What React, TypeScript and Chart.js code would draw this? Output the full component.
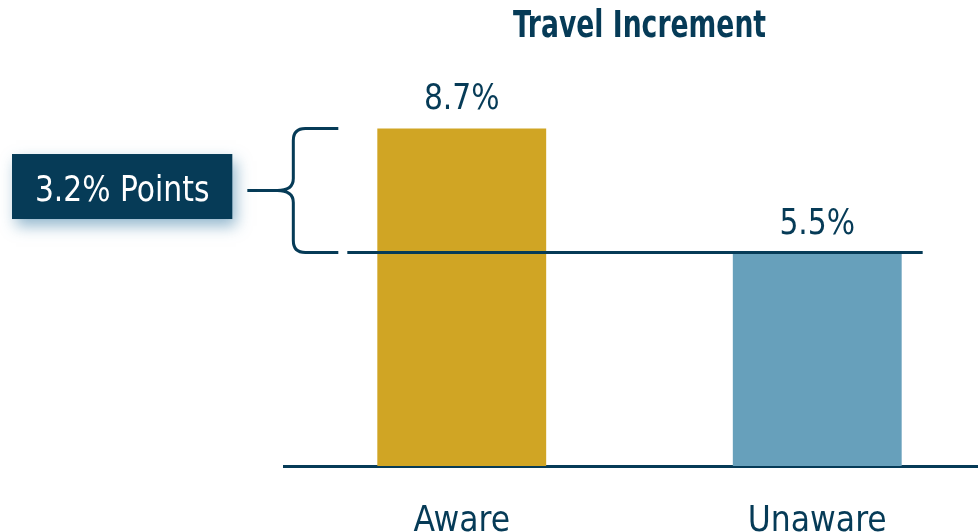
import React, { useEffect, useRef } from "react";
import { Chart, registerables } from "chart.js";

Chart.register(...registerables);

const categories: string[] = ["Aware", "Unaware"];
const values: number[] = [8.7, 5.5];
const valueLabels: string[] = ["8.7%", "5.5%"];
const barColors: string[] = ["#D0A524", "#67A0BB"];
const titleText = "Travel Increment";
const calloutText = "3.2% Points";

const NAVY = "#063B57";
const FONT = "'Liberation Sans Narrow', 'Arial Narrow', 'DejaVu Sans Condensed', 'Roboto Condensed', sans-serif";

function narrowText(ctx: any, text: string, x: number, y: number, sx: number) {
  ctx.save();
  ctx.translate(x, y);
  ctx.scale(sx, 1);
  ctx.fillText(text, 0, 0);
  ctx.restore();
}

const overlayPlugin = {
  id: "overlay",
  afterDatasetsDraw(chart: any) {
    const ctx = chart.ctx;
    const meta = chart.getDatasetMeta(0);
    const y = chart.scales.y;
    const area = chart.chartArea;
    const b0 = meta.data[0];
    const b1 = meta.data[1];
    const left0 = b0.x - b0.width / 2;
    const right1 = b1.x + b1.width / 2;
    const yTop = y.getPixelForValue(values[0]);
    const yLow = y.getPixelForValue(values[1]);

    ctx.save();
    // title
    ctx.fillStyle = NAVY;
    ctx.textAlign = "center";
    ctx.textBaseline = "alphabetic";
    ctx.font = `bold 37px ${FONT}`;
    narrowText(ctx, titleText, (area.left + area.right) / 2, 37, 0.8);

    // value labels
    ctx.font = `36px ${FONT}`;
    meta.data.forEach((bar: any, i: number) => {
      narrowText(ctx, valueLabels[i], bar.x, bar.y - 19, 0.92);
    });

    // reference line at lower value
    ctx.strokeStyle = NAVY;
    ctx.lineWidth = 3;
    ctx.beginPath();
    ctx.moveTo(left0 - 30, yLow);
    ctx.lineTo(right1 + 21, yLow);
    ctx.stroke();

    // brace
    const bx = left0 - 84;
    const armEnd = left0 - 39;
    const r = 12;
    const mid = (yTop + yLow) / 2;
    const tipX = bx - 16;
    ctx.lineJoin = "round";
    ctx.beginPath();
    ctx.moveTo(armEnd, yTop);
    ctx.lineTo(bx + r, yTop);
    ctx.quadraticCurveTo(bx, yTop, bx, yTop + r);
    ctx.lineTo(bx, mid - r);
    ctx.quadraticCurveTo(bx, mid, tipX, mid);
    ctx.quadraticCurveTo(bx, mid, bx, mid + r);
    ctx.lineTo(bx, yLow - r);
    ctx.quadraticCurveTo(bx, yLow, bx + r, yLow);
    ctx.lineTo(armEnd, yLow);
    ctx.stroke();
    // connector
    ctx.beginPath();
    ctx.moveTo(tipX, mid);
    ctx.lineTo(tipX - 30, mid);
    ctx.stroke();

    // callout box
    const boxRight = tipX - 45;
    const boxLeft = 12;
    const boxH = 65;
    const boxTop = mid - 4 - boxH / 2;
    ctx.save();
    ctx.shadowColor = "rgba(60,125,165,0.55)";
    ctx.shadowBlur = 14;
    ctx.shadowOffsetX = 4;
    ctx.shadowOffsetY = 7;
    ctx.fillStyle = NAVY;
    ctx.fillRect(boxLeft, boxTop, boxRight - boxLeft, boxH);
    ctx.restore();
    ctx.fillStyle = "#FFFFFF";
    ctx.font = `36px ${FONT}`;
    ctx.textAlign = "center";
    narrowText(ctx, calloutText, (boxLeft + boxRight) / 2, boxTop + 47, 0.92);
    ctx.restore();
  },
};

export default function App() {
  const ref = useRef<HTMLCanvasElement | null>(null);
  useEffect(() => {
    if (!ref.current) return;
    const chart = new Chart(ref.current, {
      type: "bar",
      data: {
        labels: categories,
        datasets: [
          {
            data: values,
            backgroundColor: barColors,
            borderWidth: 0,
            barPercentage: 0.475,
            categoryPercentage: 1,
          },
        ],
      },
      options: {
        animation: false,
        responsive: true,
        maintainAspectRatio: false,
        layout: { padding: { left: 284, right: 1, top: 78, bottom: 0 } },
        plugins: {
          legend: { display: false },
          tooltip: { enabled: false },
          title: { display: false },
        },
        scales: {
          x: {
            grid: { display: false, drawTicks: false },
            border: { display: true, color: NAVY, width: 3 },
            ticks: {
              color: NAVY,
              font: { family: FONT, size: 35, lineHeight: 1.2 },
              padding: 35,
            },
            afterFit: (s: any) => {
              s.height = 66;
            },
          },
          y: {
            display: false,
            min: 0,
            max: 10,
          },
        },
      },
      plugins: [overlayPlugin],
    });
    return () => chart.destroy();
  }, []);

  return (
    <div style={{ position: "fixed", left: 0, top: 0, width: 978, height: 532, overflow: "hidden", background: "#FFFFFF" }}>
      <div style={{ position: "absolute", left: 0, top: 0, width: 996, height: 532 }}>
        <canvas ref={ref} />
      </div>
    </div>
  );
}
